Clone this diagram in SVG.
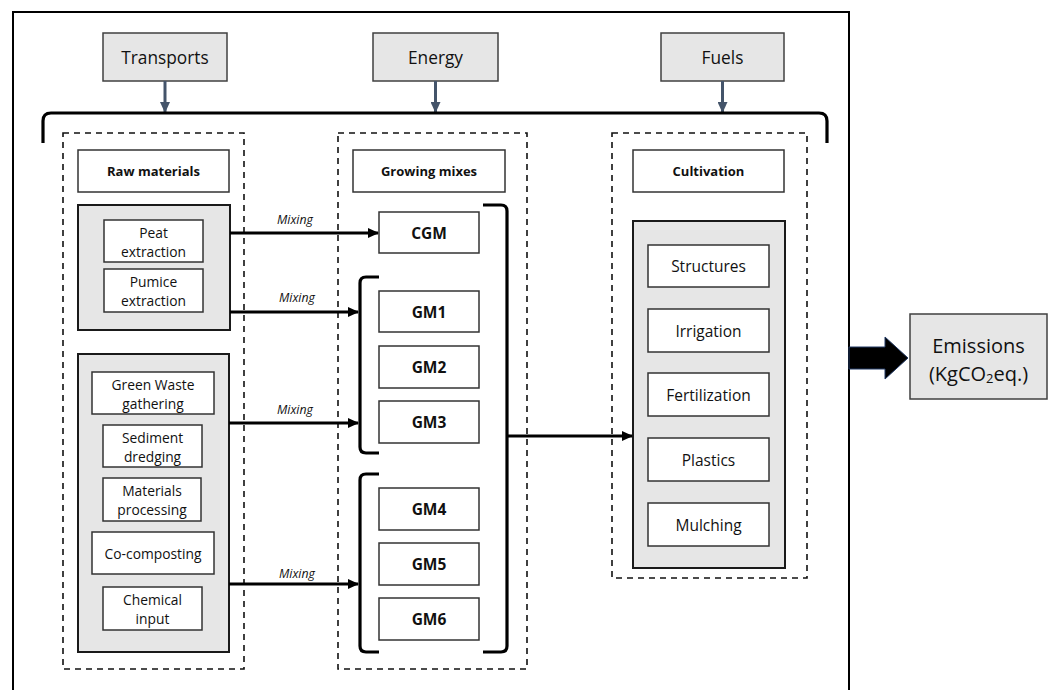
<svg xmlns="http://www.w3.org/2000/svg" width="1052" height="690" viewBox="0 0 1052 690">
<defs>
<style>
text{font-family:"Open Sans","Noto Sans","Liberation Sans",sans-serif;fill:#111;text-anchor:middle;dominant-baseline:central}
.top{fill:#e6e6e6;stroke:#404040;stroke-width:1.5}
.grp{fill:#e6e6e6;stroke:#1a1a1a;stroke-width:2}
.box{fill:#fff;stroke:#333;stroke-width:1.5}
.dash{fill:none;stroke:#111;stroke-width:1.6;stroke-dasharray:6 5}
.t17{font-size:17.3px}
.hb{font-size:13px;font-weight:bold}
.gm{font-size:15.5px;font-weight:bold}
.it{font-size:13.8px}
.ci{font-size:15.5px}
.mx{font-size:12.3px;font-style:italic}
.br{fill:none;stroke:#000;stroke-width:3.2}
.ar{stroke:#000;stroke-width:3;fill:none;marker-end:url(#ah)}
.sa{stroke:#44546A;stroke-width:3;fill:none;marker-end:url(#sh)}
</style>
<marker id="ah" markerWidth="12" markerHeight="10" refX="10" refY="5" orient="auto" markerUnits="userSpaceOnUse">
<path d="M0,0 L11,5 L0,10 Z" fill="#000"/>
</marker>
<marker id="sh" markerWidth="12" markerHeight="10" refX="10" refY="5" orient="auto" markerUnits="userSpaceOnUse">
<path d="M0,0 L11,5 L0,10 Z" fill="#44546A"/>
</marker>
</defs>
<rect width="1052" height="690" fill="#fff"/>
<rect id="frame" x="13" y="12" width="836" height="700" fill="none" stroke="#000" stroke-width="2"/>

<g id="transports"><rect class="top" x="103" y="33" width="124" height="48"/><text class="t17" x="165" y="57">Transports</text></g>
<g id="energy"><rect class="top" x="373" y="33" width="125" height="48"/><text class="t17" x="435.5" y="57">Energy</text></g>
<g id="fuels"><rect class="top" x="661" y="33" width="123" height="48"/><text class="t17" x="722.5" y="57">Fuels</text></g>

<g id="col-raw">
<rect class="dash" x="63" y="133" width="181" height="536"/>
<rect class="box" x="78" y="150" width="151" height="42"/><text class="hb" x="153.5" y="171">Raw materials</text>
</g>
<g id="col-mixes">
<rect class="dash" x="338" y="133" width="189" height="536"/>
<rect class="box" x="353" y="150" width="152" height="42"/><text class="hb" x="429" y="171">Growing mixes</text>
</g>
<g id="col-cult">
<rect class="dash" x="612" y="133" width="195" height="445"/>
<rect class="box" x="633" y="150" width="151" height="42"/><text class="hb" x="708.5" y="171">Cultivation</text>
</g>

<g id="group-extraction">
<rect class="grp" x="78" y="205" width="152" height="125"/>
<g id="peat"><rect class="box" x="104" y="220" width="99" height="42"/><text class="it" x="153.5" y="232">Peat</text><text class="it" x="153.5" y="251">extraction</text></g>
<g id="pumice"><rect class="box" x="104" y="269" width="99" height="43"/><text class="it" x="153.5" y="281">Pumice</text><text class="it" x="153.5" y="300">extraction</text></g>
</g>

<g id="group-waste">
<rect class="grp" x="78" y="354" width="151" height="298"/>
<g id="green"><rect class="box" x="92" y="372" width="122" height="42"/><text class="it" x="153" y="384">Green Waste</text><text class="it" x="153" y="403">gathering</text></g>
<g id="sediment"><rect class="box" x="103" y="425" width="99" height="42"/><text class="it" x="152.5" y="437">Sediment</text><text class="it" x="152.5" y="456">dredging</text></g>
<g id="materials"><rect class="box" x="103" y="478" width="98" height="43"/><text class="it" x="152" y="490">Materials</text><text class="it" x="152" y="509">processing</text></g>
<g id="cocomp"><rect class="box" x="92" y="532" width="122" height="42"/><text class="it" x="153" y="553">Co-composting</text></g>
<g id="chemical"><rect class="box" x="103" y="587" width="99" height="43"/><text class="it" x="152.5" y="599">Chemical</text><text class="it" x="152.5" y="618">input</text></g>
</g>

<g id="cgm"><rect class="box" x="379" y="212" width="100" height="41"/><text class="gm" x="429" y="232.5">CGM</text></g>
<g id="gm1"><rect class="box" x="379" y="291" width="100" height="41"/><text class="gm" x="429" y="311.5">GM1</text></g>
<g id="gm2"><rect class="box" x="379" y="346" width="100" height="42"/><text class="gm" x="429" y="367">GM2</text></g>
<g id="gm3"><rect class="box" x="379" y="401" width="100" height="42"/><text class="gm" x="429" y="422">GM3</text></g>
<g id="gm4"><rect class="box" x="379" y="488" width="100" height="42"/><text class="gm" x="429" y="509">GM4</text></g>
<g id="gm5"><rect class="box" x="379" y="543" width="100" height="42"/><text class="gm" x="429" y="564">GM5</text></g>
<g id="gm6"><rect class="box" x="379" y="598" width="100" height="42"/><text class="gm" x="429" y="619">GM6</text></g>

<g id="group-cultivation">
<rect class="grp" x="633" y="221" width="152" height="347"/>
<g id="structures"><rect class="box" x="648" y="245" width="121" height="42"/><text class="ci" x="708.5" y="266">Structures</text></g>
<g id="irrigation"><rect class="box" x="648" y="309" width="121" height="43"/><text class="ci" x="708.5" y="330.5">Irrigation</text></g>
<g id="fertilization"><rect class="box" x="648" y="373" width="121" height="43"/><text class="ci" x="708.5" y="394.5">Fertilization</text></g>
<g id="plastics"><rect class="box" x="648" y="438" width="121" height="43"/><text class="ci" x="708.5" y="459.5">Plastics</text></g>
<g id="mulching"><rect class="box" x="648" y="503" width="121" height="43"/><text class="ci" x="708.5" y="524.5">Mulching</text></g>
</g>

<g id="emissions">
<rect class="top" x="910" y="314" width="137" height="85"/>
<text x="978.5" y="345" font-size="20px">Emissions</text>
<text x="978.5" y="373" font-size="20px">(KgCO<tspan font-size="13px" dy="5">2</tspan><tspan dy="-5">eq.)</tspan></text>
</g>

<g id="connectors">
<line class="sa" x1="165" y1="81" x2="165" y2="112"/>
<line class="sa" x1="435.5" y1="81" x2="435.5" y2="112"/>
<line class="sa" x1="722.5" y1="81" x2="722.5" y2="112"/>
<path class="br" stroke-width="3.5" d="M43,143 L43,121 Q43,113 51,113 L819,113 Q827,113 827,121 L827,143"/>
<path class="br" d="M379,277 L366,277 Q360,277 360,283 L360,447 Q360,453 366,453 L379,453"/>
<path class="br" d="M379,474 L366,474 Q360,474 360,480 L360,646 Q360,652 366,652 L379,652"/>
<path class="br" d="M483,205 L501,205 Q507,205 507,211 L507,646 Q507,652 501,652 L483,652"/>
<line class="ar" x1="230" y1="233" x2="378" y2="233"/>
<line class="ar" x1="230" y1="312" x2="358" y2="312"/>
<line class="ar" x1="229" y1="423" x2="358" y2="423"/>
<line class="ar" x1="229" y1="584" x2="358" y2="584"/>
<line class="ar" x1="507" y1="436" x2="632" y2="436"/>
<text class="mx" x="295" y="219">Mixing</text>
<text class="mx" x="297" y="297">Mixing</text>
<text class="mx" x="295" y="409">Mixing</text>
<text class="mx" x="297" y="573">Mixing</text>
<path d="M849,347 L885,347 L885,337 L908,358 L885,379 L885,369 L849,369 Z" fill="#000" stroke="#203864" stroke-width="1"/>
</g>
</svg>
